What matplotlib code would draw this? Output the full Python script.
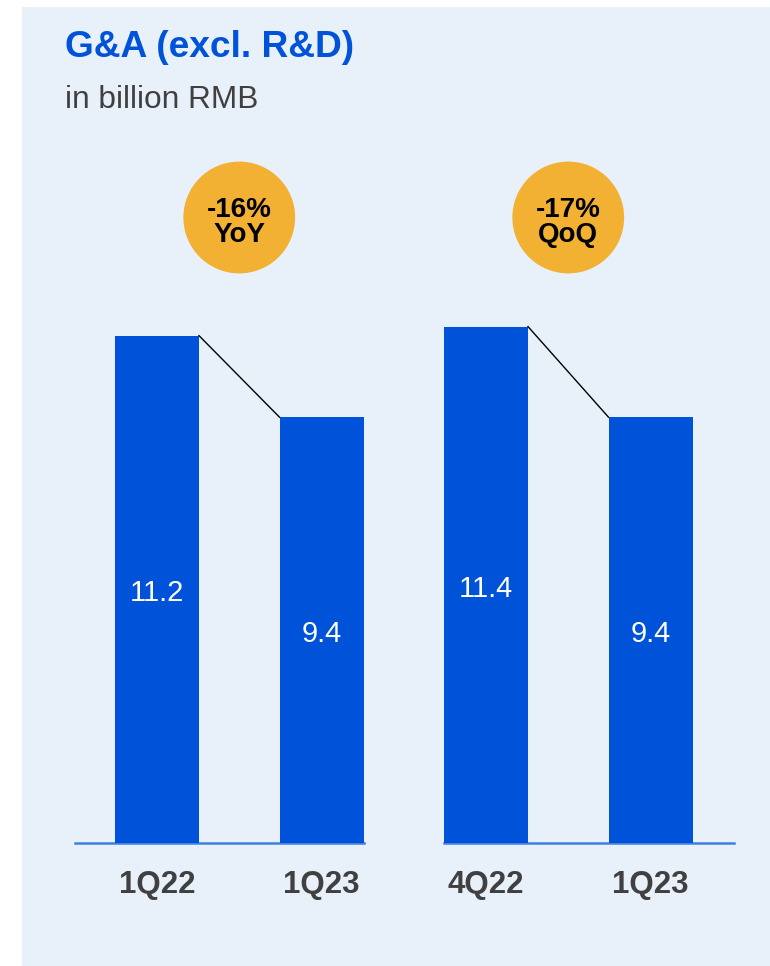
import matplotlib.pyplot as plt
from matplotlib.patches import Rectangle

# data
labels = ["1Q22", "1Q23", "4Q22", "1Q23"]
values = [11.2, 9.4, 11.4, 9.4]
badges = ["-16%\nYoY", "-17%\nQoQ"]

blue = "#0053D8"
panel = "#E8F0FA"
grey = "#404040"

plt.rcParams['font.family'] = ['Liberation Sans', 'DejaVu Sans']

fig = plt.figure(figsize=(7.7, 9.66), dpi=100)
fig.add_artist(Rectangle((22/770, 0), 1, 1 - 7/966, transform=fig.transFigure,
                         facecolor=panel, edgecolor='none', zorder=0))

ax = fig.add_axes([0, 0, 1, 1])
ax.patch.set_alpha(0)
ax.axis('off')
unit = 164.5
ppu = 45.3
ax.set_xlim(-157/unit, (770-157)/unit)
ax.set_ylim(-123/ppu, 843/ppu)

x = list(range(len(values)))
w = 84/unit
ax.bar(x, values, width=w, color=blue, zorder=3)

# baseline, one segment per pair
ax.plot([-w/2 - 40/unit, 1 + w/2], [0, 0], color="#3F7FE0", lw=1.8, zorder=2)
ax.plot([2 - w/2, 3 + w/2 + 41/unit], [0, 0], color="#3F7FE0", lw=1.8, zorder=2)

for i in x:
    ax.text(i, values[i]/2 - 4/ppu, f"{values[i]:.1f}", color="white", fontsize=21,
            ha='center', va='center', zorder=4)
    ax.text(i, -42/ppu, labels[i], color=grey, fontsize=22.5, fontweight='bold',
            ha='center', va='center')

# connectors + badges
for k, txt in enumerate(badges):
    a, b = 2*k, 2*k + 1
    ax.plot([a + w/2, b - w/2], [values[a], values[b]], color="black", lw=1, zorder=4)
    cx = (a + b)/2
    cy = (843 - 217.5)/ppu
    ax.scatter([cx], [cy], s=80.5**2, color="#F2B132", edgecolors='none', zorder=3)
    ax.text(cx, cy - 5/ppu, txt, fontsize=20, fontweight='bold', color="black",
            ha='center', va='center', linespacing=0.97, zorder=4)

fig.text(65/770, 1 - 57/966, "G&A (excl. R&D)", color=blue, fontsize=26.7,
         fontweight='bold', ha='left', va='baseline')
fig.text(65/770, 1 - 108/966, "in billion RMB", color=grey, fontsize=22.8,
         ha='left', va='baseline')

fig.savefig("out.png", dpi=100)
